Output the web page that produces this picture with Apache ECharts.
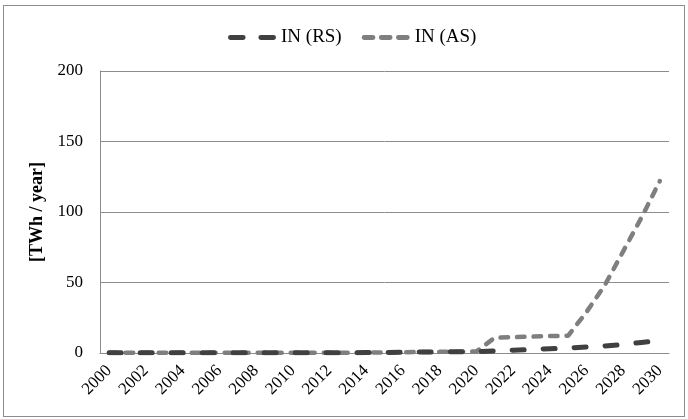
<!DOCTYPE html>
<html>
<head>
<meta charset="utf-8">
<script src="https://cdn.jsdelivr.net/npm/echarts@6/dist/echarts.min.js"></script>
<style>
  html, body { margin: 0; padding: 0; background: #fff; }
  #frame { position: absolute; left: 3px; top: 5px; width: 682px; height: 412px; border: 1px solid #8c8c8c; box-sizing: border-box; }
  #chart { position: absolute; left: 0; top: 0; width: 688px; height: 419px; }
</style>
</head>
<body>
<div id="frame"></div>
<div id="chart"></div>
<script>
// Years 2000–2030, one category per year
const years = [];
for (let y = 2000; y <= 2030; y++) years.push(String(y));

// Annual generation, TWh / year
const seriesRS = [0.2, 0.2, 0.2, 0.2, 0.2, 0.2, 0.2, 0.2, 0.2, 0.2,
                  0.2, 0.2, 0.2, 0.2, 0.3, 0.4, 0.6, 0.7, 0.8, 0.9,
                  1.0, 1.5, 2.0, 2.5, 3.0, 3.5, 4.3, 5.0, 6.0, 7.5, 9.0];
const seriesAS = [0.2, 0.2, 0.2, 0.2, 0.2, 0.2, 0.2, 0.2, 0.2, 0.2,
                  0.2, 0.2, 0.2, 0.2, 0.3, 0.4, 0.6, 0.7, 0.8, 0.9,
                  1.0, 10.8, 11.2, 11.6, 12.0, 12.2, 29, 48, 72, 96, 122];

const yTicks = { min: 0, max: 200, interval: 50 };

// Legend keys: rounded dashes like the line patterns
const iconLongDash = 'path://M2.5,0H15.5A2.5,2.5,0,0,1,15.5,5H2.5A2.5,2.5,0,0,1,2.5,0Z' +
  'M33.5,0H46.5A2.5,2.5,0,0,1,46.5,5H33.5A2.5,2.5,0,0,1,33.5,0Z';
const iconShortDash = 'path://M2.5,0H11.5A2.5,2.5,0,0,1,11.5,5H2.5A2.5,2.5,0,0,1,2.5,0Z' +
  'M20,0H29A2.5,2.5,0,0,1,29,5H20A2.5,2.5,0,0,1,20,0Z' +
  'M37.5,0H46.5A2.5,2.5,0,0,1,46.5,5H37.5A2.5,2.5,0,0,1,37.5,0Z';

const chart = echarts.init(document.getElementById('chart'));
const serif = '"Liberation Serif", "Times New Roman", serif';

chart.setOption({
  animation: false,
  textStyle: { fontFamily: serif },
  legend: {
    top: 23,
    left: 223,
    itemWidth: 48,
    itemHeight: 5,
    itemGap: 20,
    textStyle: { fontFamily: serif, fontSize: 19, color: '#000' },
    itemStyle: { borderWidth: 0 },
    data: [
      { name: 'IN (RS)', icon: iconLongDash },
      { name: 'IN (AS)', icon: iconShortDash }
    ]
  },
  grid: { left: 100, right: 19, top: 71, bottom: 66 },
  xAxis: {
    type: 'category',
    data: years,
    boundaryGap: true,
    axisLine: { lineStyle: { color: '#8c8c8c', width: 1 } },
    axisTick: { show: false },
    axisLabel: {
      interval: 1,
      rotate: 45,
      fontFamily: serif,
      fontSize: 17,
      color: '#000',
      margin: 15
    }
  },
  yAxis: {
    type: 'value',
    min: yTicks.min,
    max: yTicks.max,
    interval: yTicks.interval,
    name: '[TWh / year]',
    nameLocation: 'middle',
    nameGap: 51,
    nameTextStyle: { fontFamily: serif, fontSize: 18, fontWeight: 'bold', color: '#000' },
    axisLine: { show: true, lineStyle: { color: '#8c8c8c', width: 1 } },
    axisTick: { show: false },
    axisLabel: { fontFamily: serif, fontSize: 17, color: '#000', margin: 17 },
    splitLine: { lineStyle: { color: '#8c8c8c', width: 1 } }
  },
  series: [
    {
      name: 'IN (RS)',
      type: 'line',
      data: seriesRS,
      symbol: 'none',
      itemStyle: { color: '#404040' },
      lineStyle: { color: '#404040', width: 5, type: [12, 19], cap: 'round' },
      z: 3
    },
    {
      name: 'IN (AS)',
      type: 'line',
      data: seriesAS,
      symbol: 'none',
      itemStyle: { color: '#7f7f7f' },
      lineStyle: { color: '#7f7f7f', width: 4.5, type: [7.5, 9], cap: 'round' },
      z: 2
    }
  ]
});
</script>
</body>
</html>
